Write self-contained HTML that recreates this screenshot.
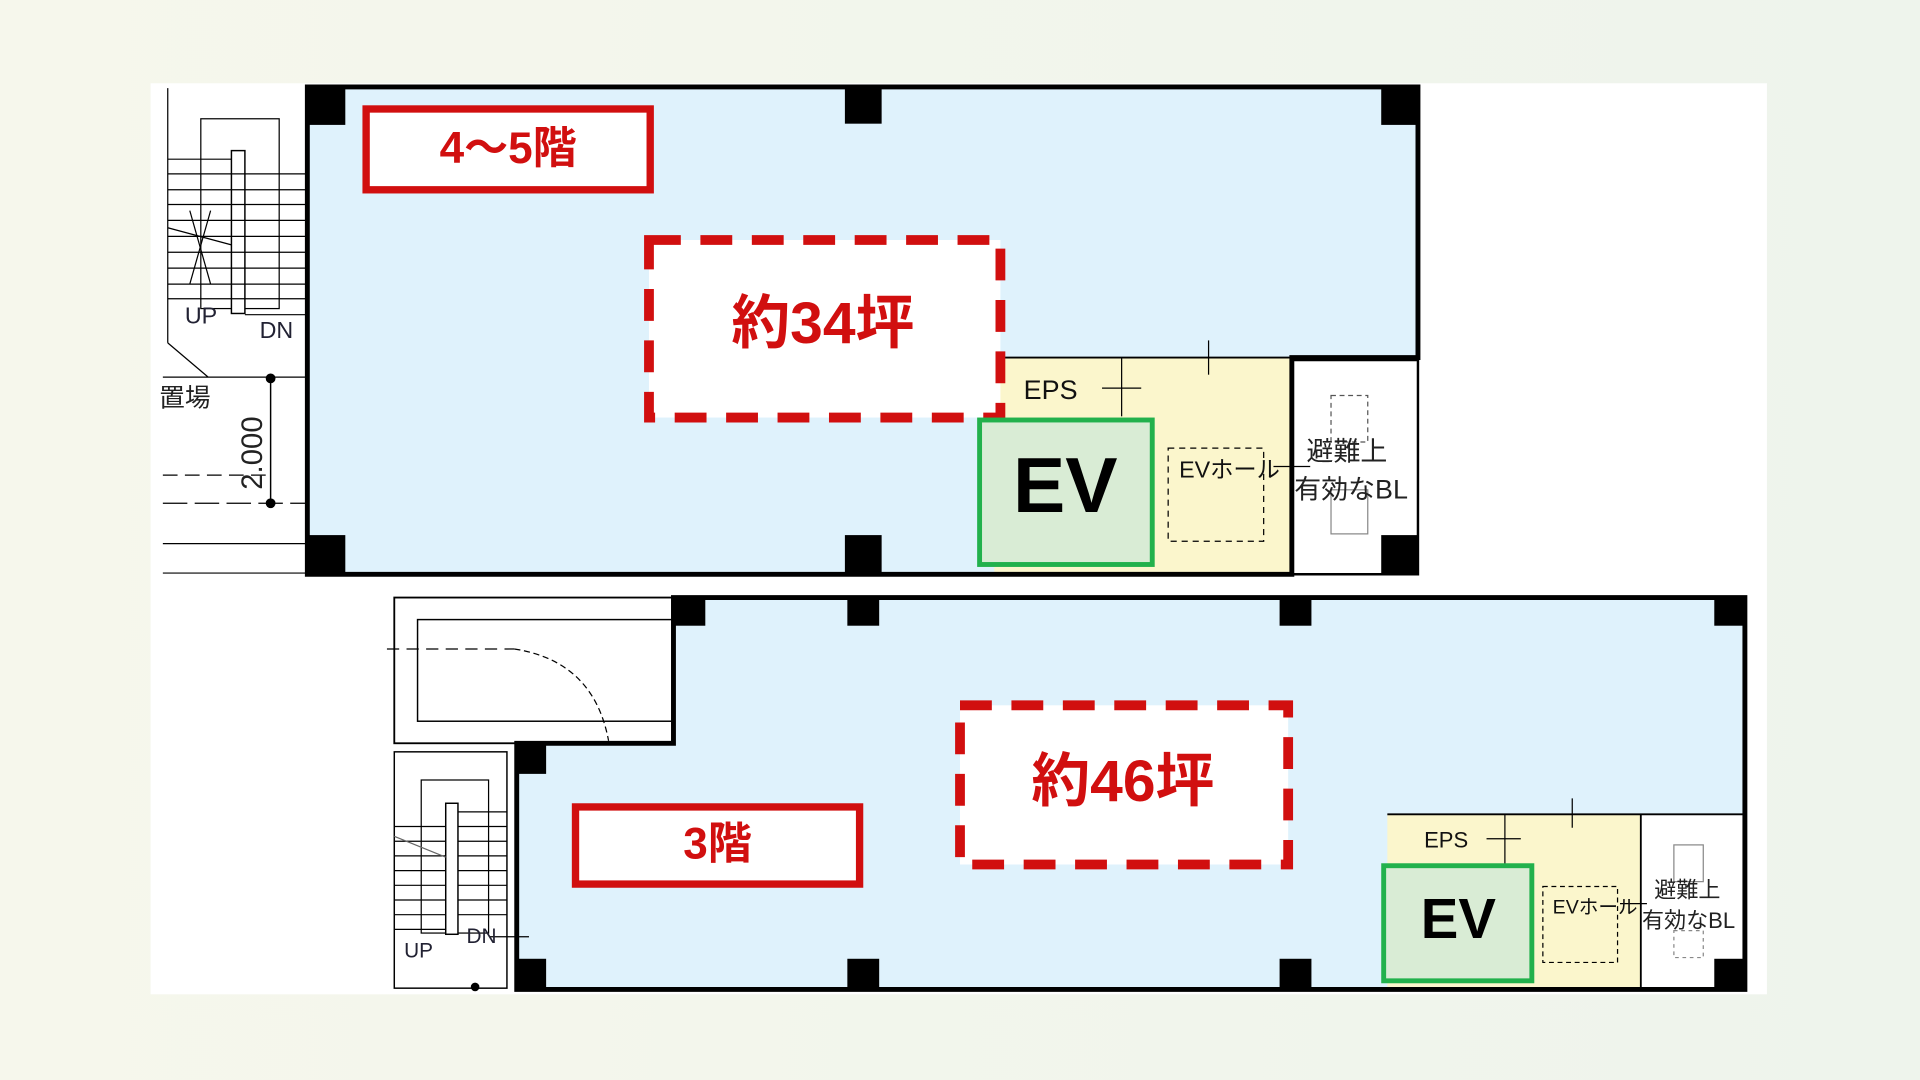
<!DOCTYPE html>
<html><head><meta charset="utf-8"><style>
html,body{margin:0;padding:0;width:1920px;height:1080px;overflow:hidden;background:linear-gradient(90deg,#f6f7ec,#eef4ec);}
svg{display:block}
text{font-family:"Liberation Sans","Noto Sans CJK JP",sans-serif}
</style></head><body>
<svg width="1920" height="1080" viewBox="0 0 1568 882" xmlns="http://www.w3.org/2000/svg">
<rect x="123" y="68" width="1320" height="744" fill="#fff"/>
<!-- TOP BUILDING -->
<g stroke="#000" fill="none">
 <line x1="137" y1="72" x2="137" y2="280" stroke-width="1"/>
 <line x1="137" y1="280" x2="170" y2="308" stroke-width="1"/>
 <line x1="133" y1="308" x2="262" y2="308" stroke-width="1"/>
 <rect x="164" y="97" width="64" height="155" stroke-width="1"/>
 <rect x="189" y="123" width="11" height="133" fill="#fff" stroke-width="1.2"/>
 <g stroke-width="1">
  <line x1="137" y1="130" x2="189" y2="130"/><line x1="137" y1="142" x2="250" y2="142"/>
  <line x1="137" y1="155" x2="250" y2="155"/><line x1="137" y1="167" x2="250" y2="167"/>
  <line x1="137" y1="180" x2="250" y2="180"/><line x1="137" y1="193" x2="250" y2="193"/>
  <line x1="137" y1="206" x2="250" y2="206"/><line x1="137" y1="219" x2="250" y2="219"/>
  <line x1="137" y1="232" x2="250" y2="232"/><line x1="137" y1="244" x2="250" y2="244"/>
  <line x1="200" y1="257" x2="250" y2="257"/>
  <line x1="137" y1="186" x2="189" y2="200"/><line x1="155" y1="172" x2="172" y2="232"/><line x1="172" y1="172" x2="155" y2="232"/>
 </g>
 <line x1="221" y1="308" x2="221" y2="411" stroke-width="1.2"/>
 <line x1="133" y1="388" x2="220" y2="388" stroke-width="1" stroke-dasharray="12 6"/>
 <line x1="133" y1="411" x2="250" y2="411" stroke-width="1" stroke-dasharray="20 6"/>
 <line x1="133" y1="444" x2="250" y2="444" stroke-width="1"/>
 <line x1="133" y1="468" x2="250" y2="468" stroke-width="1"/>
</g>
<circle cx="221" cy="309" r="4"/><circle cx="221" cy="411" r="4"/>
<text x="151" y="264" font-size="19" fill="#223">UP</text>
<text x="212" y="276" font-size="19" fill="#223">DN</text>
<text x="130" y="332" font-size="21" fill="#222">置場</text>
<text transform="translate(214,400) rotate(-90)" font-size="24" fill="#222">2.000</text>
<rect x="252" y="71" width="906" height="398" fill="#dff2fc"/>
<rect x="812" y="292" width="243" height="176" fill="#fbf6cc"/>
<rect x="1055" y="292" width="103" height="177" fill="#fff"/>
<path d="M251 71 H1158 V292 H1055 V469 H251 Z" fill="none" stroke="#000" stroke-width="4"/>
<path d="M1055 294 H1158 V469 H1055" fill="none" stroke="#000" stroke-width="2"/>
<line x1="812" y1="292" x2="1055" y2="292" stroke="#000" stroke-width="1.5"/>
<line x1="916" y1="292" x2="916" y2="340" stroke="#000"/><line x1="900" y1="317" x2="932" y2="317" stroke="#000"/>
<line x1="987" y1="278" x2="987" y2="306" stroke="#000"/>
<line x1="1040" y1="381" x2="1070" y2="381" stroke="#000"/>
<rect x="954" y="366" width="78" height="76" fill="none" stroke="#000" stroke-dasharray="5 4"/>
<rect x="1087" y="323" width="30" height="38" fill="none" stroke="#555" stroke-dasharray="4 3"/>
<rect x="1087" y="400" width="30" height="36" fill="none" stroke="#888"/>
<text x="836" y="326" font-size="22" fill="#111">EPS</text>
<text x="963" y="390" font-size="19" fill="#111">EVホール</text>
<text x="1067" y="376" font-size="22" fill="#222">避難上</text>
<text x="1057" y="407" font-size="22" fill="#222">有効なBL</text>
<g fill="#000">
 <rect x="250" y="70" width="32" height="32"/><rect x="690" y="71" width="30" height="30"/><rect x="1128" y="70" width="30" height="32"/>
 <rect x="250" y="437" width="32" height="33"/><rect x="690" y="437" width="30" height="32"/><rect x="1128" y="437" width="30" height="32"/>
</g>
<rect x="299" y="89" width="232" height="66" fill="#fff" stroke="#d10f0f" stroke-width="6"/>
<text x="415" y="133" font-size="36" font-weight="bold" fill="#d10f0f" text-anchor="middle">4～5階</text>
<rect x="530" y="196" width="287" height="145" fill="#fff" stroke="#d10f0f" stroke-width="8" stroke-dasharray="26 16"/>
<text x="672" y="280" font-size="48" font-weight="bold" fill="#d10f0f" text-anchor="middle">約34坪</text>
<rect x="800" y="343" width="141" height="118" fill="#d9ecd5" stroke="#22b14c" stroke-width="4"/>
<text x="870" y="418" font-size="64" font-weight="bold" fill="#000" text-anchor="middle">EV</text>

<!-- BOTTOM BUILDING -->
<rect x="423" y="607" width="1002" height="200" fill="#dff2fc"/>
<rect x="550" y="489" width="875" height="120" fill="#dff2fc"/>
<rect x="322" y="488" width="228" height="119" fill="#fff" stroke="#000" stroke-width="1.5"/>
<rect x="341" y="506" width="209" height="83" fill="none" stroke="#000" stroke-width="1.2"/>
<line x1="316" y1="530" x2="420" y2="530" stroke="#000" stroke-dasharray="10 6"/>
<path d="M420 530 Q485 540 497 605" fill="none" stroke="#000" stroke-dasharray="5 3"/>
<rect x="322" y="614" width="92" height="193" fill="#fff" stroke="#000" stroke-width="1.2"/>
<g stroke="#000" fill="none" stroke-width="1">
 <rect x="344" y="637" width="55" height="125"/>
 <rect x="364" y="656" width="10" height="107" fill="#fff" stroke-width="1.2"/>
 <line x1="374" y1="663" x2="414" y2="663"/><line x1="374" y1="675" x2="414" y2="675"/><line x1="374" y1="687" x2="414" y2="687"/>
 <line x1="374" y1="699" x2="414" y2="699"/><line x1="374" y1="711" x2="414" y2="711"/><line x1="374" y1="723" x2="414" y2="723"/>
 <line x1="374" y1="735" x2="414" y2="735"/><line x1="374" y1="747" x2="414" y2="747"/>
 <line x1="322" y1="675" x2="364" y2="675"/><line x1="322" y1="687" x2="364" y2="687"/><line x1="322" y1="699" x2="364" y2="699"/>
 <line x1="322" y1="711" x2="364" y2="711"/><line x1="322" y1="723" x2="364" y2="723"/><line x1="322" y1="735" x2="364" y2="735"/>
 <line x1="322" y1="747" x2="364" y2="747"/><line x1="322" y1="759" x2="364" y2="759"/>
 <line x1="322" y1="683" x2="364" y2="700" stroke="#666"/>
 <line x1="400" y1="765" x2="432" y2="765"/>
</g>
<circle cx="388" cy="806" r="3.5"/>
<text x="330" y="782" font-size="17" fill="#223">UP</text>
<text x="381" y="770" font-size="17" fill="#223">DN</text>
<rect x="1133" y="665" width="207" height="141" fill="#fbf6cc"/>
<rect x="1340" y="665" width="85" height="141" fill="#fff"/>
<path d="M550 488 H1425 V808 H422 V607 H550 Z" fill="none" stroke="#000" stroke-width="4"/>
<path d="M1133 665 H1425 M1340 665 V806" stroke="#000" stroke-width="1.5" fill="none"/>
<line x1="1229" y1="665" x2="1229" y2="706" stroke="#000"/><line x1="1214" y1="685" x2="1242" y2="685" stroke="#000"/>
<line x1="1284" y1="652" x2="1284" y2="676" stroke="#000"/>
<line x1="1323" y1="738" x2="1345" y2="738" stroke="#000"/>
<rect x="1260" y="724" width="61" height="62" fill="none" stroke="#000" stroke-dasharray="4 3"/>
<rect x="1367" y="690" width="24" height="30" fill="none" stroke="#888"/>
<rect x="1367" y="760" width="24" height="22" fill="none" stroke="#888" stroke-dasharray="3 3"/>
<text x="1163" y="692" font-size="18" fill="#111">EPS</text>
<text x="1268" y="746" font-size="16" fill="#111">EVホール</text>
<text x="1351" y="733" font-size="18" fill="#222">避難上</text>
<text x="1341" y="758" font-size="18" fill="#222">有効なBL</text>
<g fill="#000">
 <rect x="550" y="487" width="26" height="24"/><rect x="692" y="487" width="26" height="24"/><rect x="1045" y="487" width="26" height="24"/><rect x="1400" y="487" width="26" height="24"/>
 <rect x="422" y="606" width="24" height="26"/><rect x="422" y="783" width="24" height="26"/><rect x="692" y="783" width="26" height="26"/><rect x="1045" y="783" width="26" height="26"/><rect x="1400" y="783" width="26" height="26"/>
</g>
<rect x="470" y="659" width="232" height="63" fill="#fff" stroke="#d10f0f" stroke-width="6"/>
<text x="586" y="701" font-size="36" font-weight="bold" fill="#d10f0f" text-anchor="middle">3階</text>
<rect x="784" y="576" width="268" height="130" fill="#fff" stroke="#d10f0f" stroke-width="8" stroke-dasharray="26 16"/>
<text x="917" y="654" font-size="48" font-weight="bold" fill="#d10f0f" text-anchor="middle">約46坪</text>
<rect x="1130" y="707" width="121" height="94" fill="#d9ecd5" stroke="#22b14c" stroke-width="4"/>
<text x="1191" y="766" font-size="46" font-weight="bold" fill="#000" text-anchor="middle">EV</text>
</svg>
</body></html>
